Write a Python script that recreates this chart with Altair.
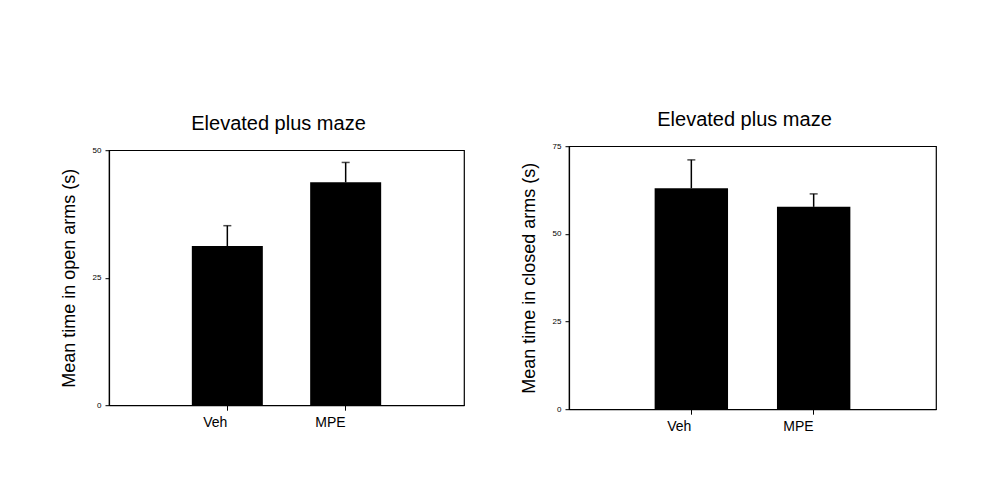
import altair as alt
import pandas as pd

groups = ["Veh", "MPE"]
open_means = [31.2, 43.7]
open_sem = [4.0, 3.9]
closed_means = [63.0, 57.7]
closed_sem = [8.1, 3.7]
open_ticks = [0, 25, 50]
closed_ticks = [0, 25, 50, 75]

FONT = "Liberation Sans"


def panel(means, sems, ymax, ticks, ytitle, w, h):
    df = pd.DataFrame({"group": groups, "mean": means,
                       "top": [m + s for m, s in zip(means, sems)]})
    x = alt.X("group:N", sort=groups, title=None,
              scale=alt.Scale(paddingInner=0.4, paddingOuter=0.7),
              axis=alt.Axis(labelAngle=0, labelFontSize=14, labelFont=FONT,
                            labelColor="black", tickColor="black",
                            domainColor="black", tickSize=5, labelPadding=12,
                            domainWidth=1.2))
    y = alt.Y("mean:Q", title=ytitle,
              scale=alt.Scale(domain=[0, ymax], nice=False),
              axis=alt.Axis(values=ticks,
                            format="d", labelFontSize=8, labelFont=FONT,
                            labelColor="black", tickColor="black",
                            domainColor="black", tickSize=4, labelPadding=4,
                            titleFont=FONT, titleFontSize=18,
                            titleFontWeight="normal", titleColor="black",
                            titlePadding=14, grid=False, domainWidth=1.2))
    base = alt.Chart(df)
    bars = base.mark_bar(color="black").encode(x=x, y=y)
    err = base.mark_rule(color="black", strokeWidth=1.5).encode(
        x=alt.X("group:N", sort=groups), y="mean:Q", y2="top:Q")
    cap = base.mark_tick(color="black", size=8, thickness=1.5,
                         orient="horizontal").encode(
        x=alt.X("group:N", sort=groups), y="top:Q")
    return alt.layer(err, bars, cap).properties(
        width=w, height=h,
        title=alt.TitleParams("Elevated plus maze", fontSize=20, font=FONT,
                              fontWeight="normal", color="black",
                              offset=12, dx=-8))


left = panel(open_means, open_sem, 50, open_ticks, "Mean time in open arms (s)", 355, 255)
right = panel(closed_means, closed_sem, 75, closed_ticks, "Mean time in closed arms (s)", 367, 263)

chart = alt.hconcat(left, right, spacing=54, center=True).configure_view(
    stroke="black", strokeWidth=1.2
).properties(
    padding={"left": 59, "top": 109, "right": 5, "bottom": 5},
    background="white"
)

chart.save("out.html", embed_options={"renderer": "svg", "actions": False})
